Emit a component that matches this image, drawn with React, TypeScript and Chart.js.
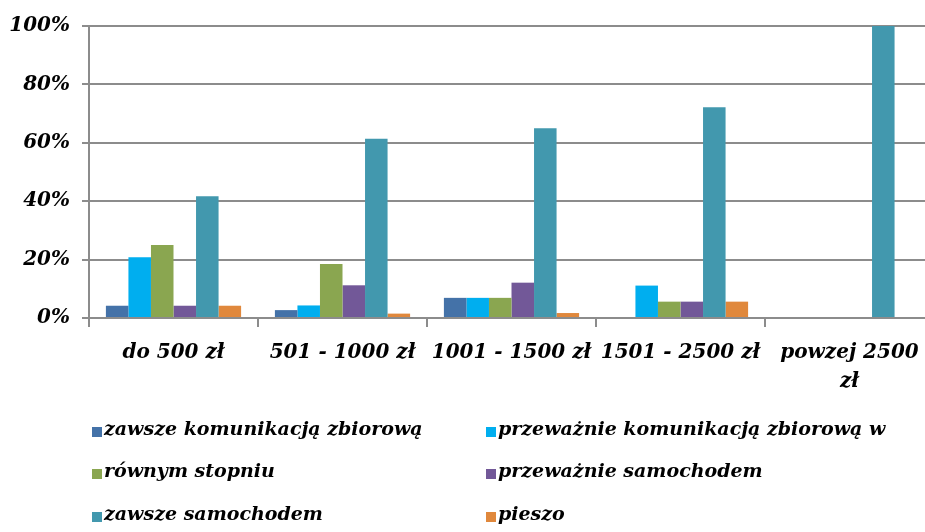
import React, { useEffect, useRef } from "react";
import { Chart, registerables } from "chart.js";

Chart.register(...registerables);

const categories: (string | string[])[] = [
  "do 500 zł",
  "501 - 1000 zł",
  "1001 - 1500 zł",
  "1501 - 2500 zł",
  ["powzej 2500", "zł"],
];

const seriesNames = [
  "zawsze komunikacją zbiorową",
  "przeważnie komunikacją zbiorową w",
  "równym stopniu",
  "przeważnie samochodem",
  "zawsze samochodem",
  "pieszo",
];

const zawszeKomunikacja = [4.2, 2.7, 6.9, 0, 0];
const przewaznieKomunikacja = [20.8, 4.3, 6.9, 11.1, 0];
const rownymStopniu = [25.0, 18.5, 6.9, 5.6, 0];
const przewazznieSamochodem = [4.2, 11.2, 12.1, 5.6, 0];
const zawszeSamochodem = [41.7, 61.4, 65.0, 72.2, 100];
const pieszo = [4.2, 1.5, 1.7, 5.6, 0];

const yTicks = [0, 20, 40, 60, 80, 100];

const colors = ["#4472A8", "#00AEEF", "#8AA650", "#725898", "#4298AE", "#E0883C"];

const FONT = "'DejaVu Serif', 'Liberation Serif', serif";

const legendPlugin = {
  id: "gridLegend",
  afterDraw(chart: any) {
    const ctx = chart.ctx as CanvasRenderingContext2D;
    const area = chart.chartArea;
    const colX = [area.left + 3, area.left + 397];
    const rowY = [area.bottom + 117, area.bottom + 159, area.bottom + 202];
    ctx.save();
    ctx.font = `italic bold 19px ${FONT}`;
    ctx.textBaseline = "alphabetic";
    ctx.textAlign = "left";
    chart.data.datasets.forEach((ds: any, i: number) => {
      const x = colX[i % 2];
      const y = rowY[Math.floor(i / 2)];
      ctx.fillStyle = ds.backgroundColor;
      ctx.fillRect(x, y - 8, 10, 10);
      ctx.fillStyle = "#000";
      ctx.fillText(ds.label, x + 12, y);
    });
    ctx.restore();
  },
};

export default function App() {
  const ref = useRef<HTMLCanvasElement | null>(null);
  useEffect(() => {
    if (!ref.current) return;
    const seriesData = [
      zawszeKomunikacja,
      przewaznieKomunikacja,
      rownymStopniu,
      przewazznieSamochodem,
      zawszeSamochodem,
      pieszo,
    ];
    const chart = new Chart(ref.current, {
      type: "bar",
      data: {
        labels: categories,
        datasets: seriesNames.map((name, i) => ({
          label: name,
          data: seriesData[i],
          backgroundColor: colors[i],
          borderWidth: 0,
          categoryPercentage: 0.8,
          barPercentage: 1.0,
        })),
      },
      options: {
        responsive: false,
        animation: false,
        devicePixelRatio: 1,
        layout: { padding: { left: 0, right: 16, top: 26, bottom: 124 } },
        plugins: {
          legend: { display: false },
          tooltip: { enabled: false },
        },
        scales: {
          x: {
            grid: {
              display: true,
              drawOnChartArea: false,
              drawTicks: true,
              tickLength: 9,
              color: "#8c8c8c",
              lineWidth: 2,
              offset: true,
            },
            border: { display: true, color: "#8c8c8c", width: 2 },
            ticks: {
              color: "#000",
              padding: 11,
              maxRotation: 0,
              autoSkip: false,
              font: { family: FONT, size: 20, style: "italic", weight: "bold", lineHeight: 1.45 },
            },
            afterFit(scale: any) {
              scale.height = 90;
            },
          },
          y: {
            min: 0,
            max: 100,
            afterBuildTicks(scale: any) {
              scale.ticks = yTicks.map((v) => ({ value: v }));
            },
            grid: {
              color: "#8c8c8c",
              lineWidth: 2,
              tickLength: 7,
              drawTicks: true,
            },
            border: { display: true, color: "#8c8c8c", width: 2 },
            ticks: {
              color: "#000",
              padding: 12,
              callback: (v: any) => `${v}%`,
              font: { family: FONT, size: 20, style: "italic", weight: "bold" },
            },
            afterFit(scale: any) {
              scale.width = 89;
            },
          },
        },
      },
      plugins: [legendPlugin],
    });
    return () => chart.destroy();
  }, []);

  return (
    <div
      style={{
        position: "fixed",
        left: 0,
        top: 0,
        width: 925,
        height: 532,
        overflow: "hidden",
        background: "#fff",
      }}
    >
      <canvas ref={ref} width={950} height={532} style={{ width: 950, height: 532, display: "block" }} />
    </div>
  );
}
